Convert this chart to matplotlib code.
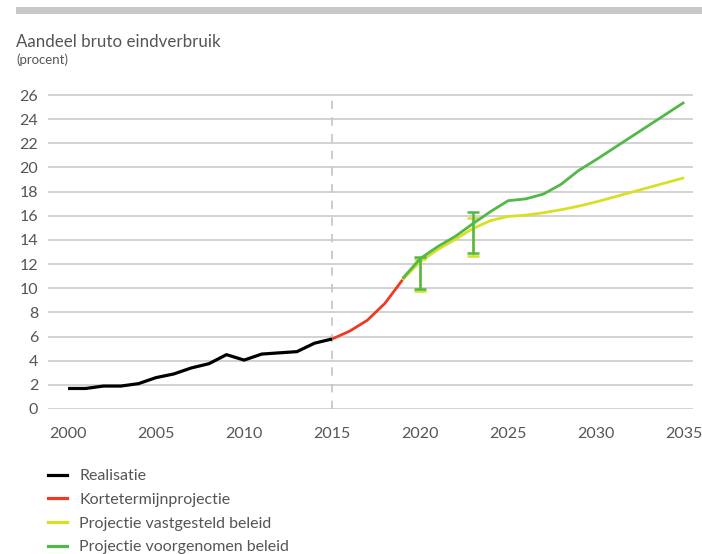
import numpy as np
import matplotlib.pyplot as plt
from matplotlib.lines import Line2D

plt.rcParams['font.family'] = ['Lato', 'DejaVu Sans']

# data (percent)
yearsReal = [2000, 2001, 2002, 2003, 2004, 2005, 2006, 2007, 2008, 2009, 2010, 2011, 2012, 2013, 2014, 2015]
realisatie = [1.7, 1.7, 1.9, 1.9, 2.1, 2.6, 2.9, 3.4, 3.75, 4.5, 4.05, 4.55, 4.65, 4.75, 5.45, 5.8]

yearsShort = [2015, 2016, 2017, 2018, 2019]
kortetermijn = [5.8, 6.45, 7.35, 8.75, 10.7]

yearsProj = [2019, 2020, 2021, 2022, 2023, 2024, 2025, 2026, 2027, 2028, 2029, 2030, 2031, 2032, 2033, 2034, 2035]
vastgesteld = [10.7, 12.2, 13.2, 14.05, 14.95, 15.6, 15.95, 16.05, 16.25, 16.5, 16.8, 17.15, 17.55, 17.95, 18.35, 18.75, 19.15]
voorgenomen = [10.8, 12.45, 13.45, 14.3, 15.35, 16.35, 17.25, 17.4, 17.8, 18.6, 19.75, 20.65, 21.6, 22.55, 23.5, 24.45, 25.4]

# uncertainty bands
errYears = [2020, 2023]
vastLow = [9.8, 12.7]
vastHigh = [12.45, 15.85]
voorLow = [9.9, 12.9]
voorHigh = [12.6, 16.3]

labels = ['Realisatie', 'Kortetermijnprojectie', 'Projectie vastgesteld beleid', 'Projectie voorgenomen beleid']
colBlack = '#000000'
colRed = '#ee3a24'
colYellow = '#d8e023'
colGreen = '#52b848'
textCol = '#555555'

fig = plt.figure(figsize=(7.02, 5.54), dpi=100)
ax = fig.add_axes([48/702, (554-409)/554, (693-48)/702, 320/554])

# grid
for v in range(0, 27, 2):
    ax.axhline(v, color='#cfcfcf', lw=1.3, zorder=0)
ax.vlines(2015, 0, 26, colors='#c4c4c4', linestyles=(0, (5, 5)), lw=1.2, zorder=1)

ax.plot(yearsReal, realisatie, color=colBlack, lw=2.3, zorder=3, solid_capstyle='butt')
ax.plot(yearsShort, kortetermijn, color=colRed, lw=2.0, zorder=3, solid_capstyle='butt')
ax.plot(yearsProj, vastgesteld, color=colYellow, lw=2.0, zorder=3, solid_capstyle='butt')
ax.plot(yearsProj, voorgenomen, color=colGreen, lw=2.0, zorder=4, solid_capstyle='butt')

vl, vh = np.array(vastLow), np.array(vastHigh)
ax.errorbar(errYears, (vl+vh)/2, yerr=(vh-vl)/2, fmt='none', ecolor=colYellow,
            elinewidth=1.8, capsize=4, capthick=1.8, zorder=2)
gl, gh = np.array(voorLow), np.array(voorHigh)
ax.errorbar(errYears, (gl+gh)/2, yerr=(gh-gl)/2, fmt='none', ecolor=colGreen,
            elinewidth=1.8, capsize=4, capthick=1.8, zorder=5)

ax.set_xlim(1998.86, 2035.5)
ax.set_ylim(0, 26.5)
ax.set_xticks(range(2000, 2036, 5))
ax.set_yticks(range(0, 27, 2))
for s in ax.spines.values():
    s.set_visible(False)
ax.tick_params(axis='both', length=0, labelsize=11.5, labelcolor=textCol)
ax.tick_params(axis='y', pad=7)
ax.tick_params(axis='x', pad=13)

# header bar and titles
fig.patches.append(plt.Rectangle((16/702, 1-14/554), 1, 7/554, transform=fig.transFigure,
                                 color='#c8c8c8', lw=0))
fig.text(16/702, 1-42/554, 'Aandeel bruto eindverbruik', fontsize=12.2, color=textCol, va='center')
fig.text(16/702, 1-60/554, '(procent)', fontsize=9.5, color=textCol, va='center')

handles = [Line2D([], [], color=c, lw=2.3) for c in [colBlack, colRed, colYellow, colGreen]]
fig.legend(handles, labels, loc='upper left', bbox_to_anchor=(48/702, 1-469/554), frameon=False,
           fontsize=11.5, labelcolor=textCol, handlelength=1.2, handletextpad=0.75, labelspacing=0.6,
           borderaxespad=0, borderpad=0)

fig.savefig('out.png', dpi=100)
